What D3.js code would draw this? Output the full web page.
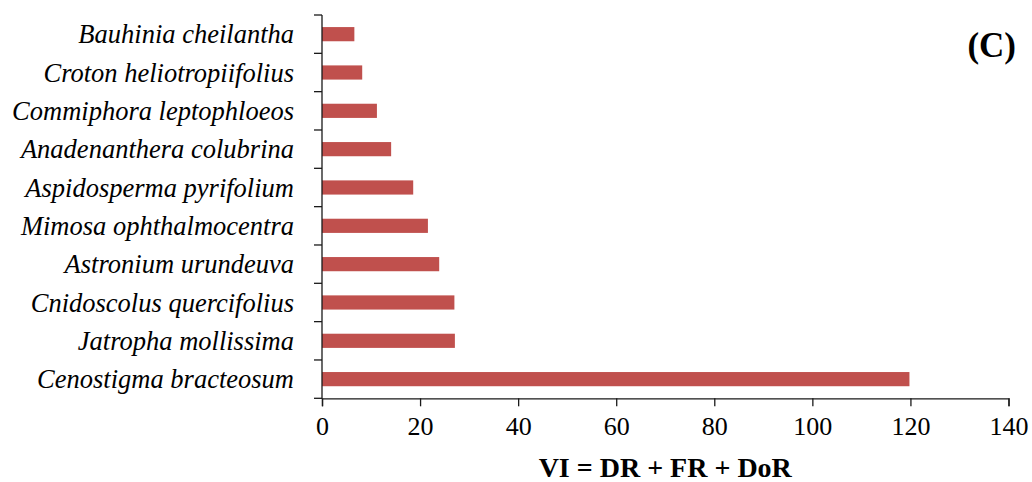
<!DOCTYPE html>
<html>
<head>
<meta charset="utf-8">
<script src="https://cdn.jsdelivr.net/npm/d3@7/dist/d3.min.js"></script>
<style>
  html, body { margin: 0; padding: 0; background: #fff; }
  svg { display: block; }
  svg text { font-family: "Liberation Serif", "Times New Roman", serif !important; fill: #000; }
</style>
</head>
<body>
<svg id="chart" width="1032" height="482"></svg>
<script>
// Species, ordered top to bottom as drawn
const species = [
  "Bauhinia cheilantha",
  "Croton heliotropiifolius",
  "Commiphora leptophloeos",
  "Anadenanthera colubrina",
  "Aspidosperma pyrifolium",
  "Mimosa ophthalmocentra",
  "Astronium urundeuva",
  "Cnidoscolus quercifolius",
  "Jatropha mollissima",
  "Cenostigma bracteosum"
];
// Value index (VI = DR + FR + DoR) for each species
const viValues = [6.6, 8.2, 11.2, 14.1, 18.6, 21.6, 23.9, 27.0, 27.1, 119.8];
const xTicks = [0, 20, 40, 60, 80, 100, 120, 140];
const xTitle = "VI = DR + FR + DoR";
const panelLabel = "(C)";

const svg = d3.select("#chart");
const plotLeft = 322, plotRight = 1008.5, plotTop = 15, plotBottom = 398.3;
const axisColor = "#1a1a1a";
const barColor = "#C0504D";
const serif = "'Liberation Serif', 'Times New Roman', serif";

const x = d3.scaleLinear().domain([0, 140]).range([plotLeft, plotRight]);
const y = d3.scaleBand().domain(species).range([plotTop, plotBottom]).padding(0);
const barH = y.bandwidth() * 0.37;

// bars
svg.append("g").selectAll("rect")
  .data(species.map((s, i) => ({ s, v: viValues[i] })))
  .join("rect")
  .attr("x", x(0))
  .attr("y", d => y(d.s) + (y.bandwidth() - barH) / 2)
  .attr("width", d => x(d.v) - x(0))
  .attr("height", barH)
  .attr("fill", barColor);

// x axis
const xAxis = d3.axisBottom(x).tickValues(xTicks).tickSize(8).tickPadding(10).tickFormat(d3.format("d"));
const gx = svg.append("g").attr("transform", `translate(0,${plotBottom})`).call(xAxis)
  .attr("font-family", serif).attr("font-size", 26);
gx.select(".domain").attr("stroke", axisColor).attr("stroke-width", 1.3);
gx.selectAll(".tick line").attr("stroke", axisColor).attr("stroke-width", 1.3);
gx.selectAll(".tick text").style("font-family", serif).style("font-size", "26px").attr("fill", "#000");

// y axis: ticks at band boundaries
const yBoundaries = species.map(s => y(s)).concat([plotBottom]);
const gy = svg.append("g");
gy.append("line")
  .attr("x1", plotLeft).attr("x2", plotLeft).attr("y1", plotTop).attr("y2", plotBottom)
  .attr("stroke", axisColor).attr("stroke-width", 1.3);
gy.selectAll("line.tk").data(yBoundaries).join("line")
  .attr("class", "tk")
  .attr("x1", plotLeft - 8).attr("x2", plotLeft)
  .attr("y1", d => d).attr("y2", d => d)
  .attr("stroke", axisColor).attr("stroke-width", 1.3);

// category labels
svg.append("g").selectAll("text")
  .data(species).join("text")
  .attr("x", 294)
  .attr("y", d => y(d) + y.bandwidth() / 2)
  .attr("dy", "0.35em")
  .attr("text-anchor", "end")
  .style("font-family", serif)
  .style("font-style", "italic")
  .style("font-size", "26.5px")
  .text(d => d);

// axis title
svg.append("text")
  .attr("x", (plotLeft + plotRight) / 2)
  .attr("y", 477)
  .attr("text-anchor", "middle")
  .style("font-family", serif)
  .style("font-weight", "bold")
  .style("font-size", "28px")
  .text(xTitle);

// panel label
svg.append("text")
  .attr("x", 1016)
  .attr("y", 57)
  .attr("text-anchor", "end")
  .style("font-family", serif)
  .style("font-weight", "bold")
  .style("font-size", "35px")
  .text(panelLabel);
</script>
</body>
</html>
